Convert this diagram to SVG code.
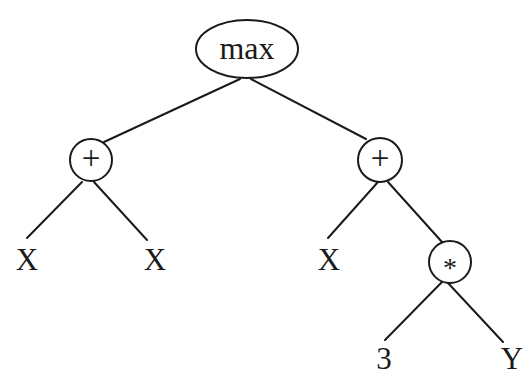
<svg xmlns="http://www.w3.org/2000/svg" width="524" height="374" viewBox="0 0 524 374">
  <style>
    .edge { stroke: #1a1a1a; stroke-width: 2; fill: none; stroke-linecap: round; }
    .shape { stroke: #1a1a1a; stroke-width: 2; fill: #ffffff; }
    .label { font-family: "Liberation Serif", "Times New Roman", serif; font-size: 31px; fill: #1a1a1a; text-anchor: middle; }
    .root { font-size: 32px; }
    .op { font-family: "Liberation Serif", "Times New Roman", serif; font-size: 33px; fill: #1a1a1a; text-anchor: middle; }
  </style>
  <rect width="524" height="374" fill="#ffffff"/>

  <!-- tree edges -->
  <g id="edges">
    <line class="edge" x1="240" y1="79" x2="104" y2="142"/>
    <line class="edge" x1="251" y1="79" x2="366" y2="139"/>
    <line class="edge" x1="82" y1="182" x2="27" y2="238"/>
    <line class="edge" x1="94" y1="182" x2="147" y2="240"/>
    <line class="edge" x1="378" y1="182" x2="328" y2="238"/>
    <line class="edge" x1="388" y1="182" x2="442" y2="242"/>
    <line class="edge" x1="442" y1="282" x2="385" y2="340"/>
    <line class="edge" x1="448" y1="283" x2="503" y2="342"/>
  </g>

  <!-- root: max -->
  <g id="node-max">
    <ellipse class="shape" cx="247" cy="49" rx="51" ry="29"/>
    <text class="label root" x="247" y="59">max</text>
  </g>

  <!-- left sum -->
  <g id="node-plus-left">
    <circle class="shape" cx="91" cy="160" r="21"/>
    <text class="op" x="91" y="168.5">+</text>
  </g>

  <!-- right sum -->
  <g id="node-plus-right">
    <circle class="shape" cx="380" cy="160" r="22"/>
    <text class="op" x="380" y="168.5">+</text>
  </g>

  <!-- product -->
  <g id="node-times">
    <circle class="shape" cx="450" cy="262" r="21"/>
    <text class="op" x="450" y="277" style="font-size:28px">*</text>
  </g>

  <!-- leaves -->
  <g id="leaf-x1"><text class="label" x="27" y="270">X</text></g>
  <g id="leaf-x2"><text class="label" x="155" y="270">X</text></g>
  <g id="leaf-x3"><text class="label" x="329" y="270">X</text></g>
  <g id="leaf-3"><text class="label" x="384" y="369">3</text></g>
  <g id="leaf-y"><text class="label" x="512" y="369">Y</text></g>
</svg>
